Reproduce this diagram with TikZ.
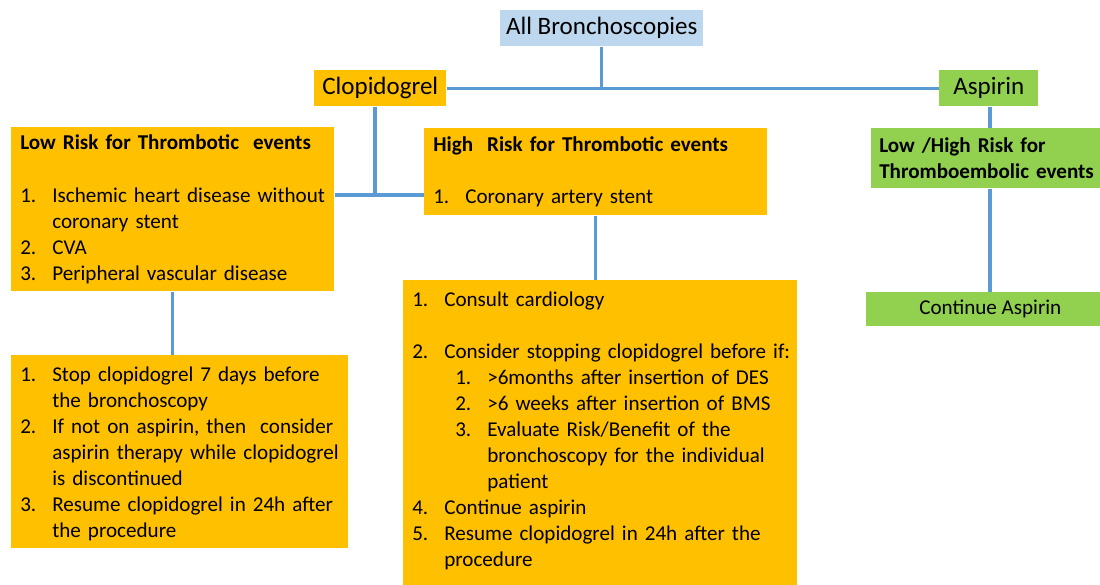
\documentclass[tikz,border=0pt]{standalone}
\usepackage{fontspec}
\setmainfont{Carlito}
\usepackage{tikz}
\usetikzlibrary{positioning,calc}
\usepackage{xcolor}
\definecolor{orangebox}{HTML}{FFC000}
\definecolor{bluebox}{HTML}{BDD7EE}
\definecolor{greenbox}{HTML}{92D050}
\definecolor{linkblue}{HTML}{5B9BD5}

% list lines inside the boxes
\newcommand{\li}[2]{\par\rightskip=-0.5cm plus 1fil\hangindent=0.8cm\hangafter=1\noindent\makebox[0.8cm][l]{#1}#2\par}
\newcommand{\lii}[2]{\par\rightskip=-0.5cm plus 1fil\hangindent=1.875cm\hangafter=1\noindent\hspace*{1.075cm}\makebox[0.8cm][l]{#1}#2\par}
\newcommand{\blankline}{\par\mbox{}}

\begin{document}
\begin{tikzpicture}[
  x=0.025cm, y=-0.025cm,
  font=\fontsize{15}{18.5}\selectfont,
  block/.style={rectangle, fill=orangebox, inner xsep=0.225cm, inner ysep=0.1cm,
                anchor=north west, align=left,
                execute at begin node={\hyphenpenalty=10000}},
  tag/.style={rectangle, anchor=north west, minimum height=0.9cm, inner sep=0pt,
              font=\fontsize{17.8}{20}\selectfont},
  link/.style={draw=linkblue, line width=2.2pt}
]
\useasboundingbox (0,0) rectangle (1100,585);

% top level
\node[tag, fill=bluebox, minimum width=5.075cm] (all) at (500,10) {All Bronchoscopies};
\node[tag, fill=orangebox, minimum width=3.3cm] (clop) at (314,70) {Clopidogrel};
\node[tag, fill=greenbox, minimum width=2.475cm] (asp) at (939,70) {Aspirin};

% clopidogrel branch
\node[block, text width=7.625cm, minimum height=4.1cm] (low) at (11,127)
  {\textbf{Low Risk for Thrombotic\ \ events}\blankline
   \li{1.}{Ischemic heart disease without\newline coronary stent}
   \li{2.}{CVA}
   \li{3.}{Peripheral vascular disease}};
\node[block, text width=8.125cm, minimum height=2.175cm] (high) at (424,128)
  {\textbf{High\ \ Risk for Thrombotic events}\blankline
   \li{1.}{Coronary artery stent}};
\node[block, text width=7.975cm, inner ysep=0pt] (lowplan) at (11,355)
  {\li{1.}{Stop clopidogrel 7 days before\newline the bronchoscopy}
   \li{2.}{If not on aspirin, then\ \ consider\newline aspirin therapy while clopidogrel\newline is discontinued}
   \li{3.}{Resume clopidogrel in 24h after\newline the procedure}
   \kern0.18cm};
\node[block, text width=9.4cm, inner ysep=0pt] (highplan) at (403,280)
  {\li{1.}{Consult cardiology}\blankline
   \li{2.}{Consider stopping clopidogrel before if:}
   \lii{1.}{>6months after insertion of DES}
   \lii{2.}{>6 weeks after insertion of BMS}
   \lii{3.}{Evaluate Risk/Benefit of the\newline bronchoscopy for the individual\newline patient}
   \li{4.}{Continue aspirin}
   \li{5.}{Resume clopidogrel in 24h after the\newline procedure}
   \kern0.45cm};

% aspirin branch
\node[block, fill=greenbox, text width=5.5cm, inner xsep=0.2cm, minimum height=1.5cm] (aspall) at (871,128)
  {\textbf{Low /High Risk for}\\\textbf{Thromboembolic events}};
\node[tag, fill=greenbox, minimum width=6.2cm, minimum height=0.85cm,
      font=\fontsize{15}{18.5}\selectfont] (cont) at (866,292) {Continue Aspirin};

% connectors
\coordinate (fork) at (375,195);
\draw[link] (clop.east) -- (asp.west);
\draw[link] (all.south) -- (all.south |- clop.east);
\draw[link] (clop.south -| fork) -- (fork);
\draw[link] (low.east |- fork) -- (high.west |- fork);
\draw[link] (high.south) -- (high.south |- highplan.north);
\draw[link] (low.south) -- (low.south |- lowplan.north);
\draw[link] (asp.south -| 990,0) -- (aspall.north -| 990,0);
\draw[link] (aspall.south -| 990,0) -- (cont.north -| 990,0);
\end{tikzpicture}
\end{document}
